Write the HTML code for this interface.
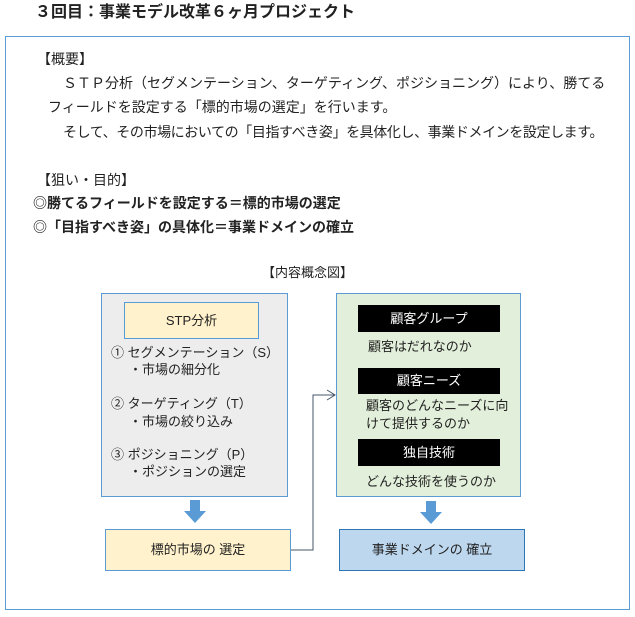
<!DOCTYPE html>
<html><head><meta charset="utf-8"><style>
body{margin:0;width:635px;height:617px;background:#fff;position:relative;overflow:hidden;font-family:"Liberation Sans","Noto Sans CJK JP",sans-serif;color:#222}
.a{position:absolute;white-space:nowrap;font-size:13px;line-height:16px}
.p{font-size:14px;line-height:17px}
.b{font-weight:bold}
.box{position:absolute;box-sizing:border-box}
.bar{position:absolute;background:#000;color:#fff;font-size:13px;text-align:center;line-height:27px}
</style></head><body>
<div class="a b" style="left:35px;top:3px;font-size:16px;line-height:19px">３回目：事業モデル改革６ヶ月プロジェクト</div>
<div class="box" style="left:5px;top:36px;width:625px;height:574px;border:1.5px solid #5b9bd5"></div>
<div class="a p" style="left:37px;top:51px">【概要】</div>
<div class="a p" style="left:63px;top:75px">ＳＴＰ分析（セグメンテーション、ターゲティング、ポジショニング）により、勝てる</div>
<div class="a p" style="left:48px;top:99px">フィールドを設定する「標的市場の選定」を行います。</div>
<div class="a p" style="left:63px;top:124px;letter-spacing:-0.4px">そして、その市場においての「目指すべき姿」を具体化し、事業ドメインを設定します。</div>
<div class="a p" style="left:37px;top:172px">【狙い・目的】</div>
<div class="a p b" style="left:33px;top:195px">◎勝てるフィールドを設定する＝標的市場の選定</div>
<div class="a p b" style="left:33px;top:219px">◎「目指すべき姿」の具体化＝事業ドメインの確立</div>
<div class="a" style="left:262px;top:265px">【内容概念図】</div>

<div class="box" style="left:101px;top:293px;width:187px;height:204px;background:#ededed;border:1px solid #5b9bd5"></div>
<div class="box" style="left:124px;top:302px;width:135px;height:37px;background:#fff2cc;border:1px solid #5b9bd5;font-size:13px;text-align:center;line-height:35px">STP分析</div>
<div class="a" style="left:111px;top:345px">① セグメンテーション（S）</div>
<div class="a" style="left:129px;top:362px">・市場の細分化</div>
<div class="a" style="left:111px;top:396px">② ターゲティング（T）</div>
<div class="a" style="left:129px;top:414px">・市場の絞り込み</div>
<div class="a" style="left:111px;top:447px">③ ポジショニング（P）</div>
<div class="a" style="left:129px;top:464px">・ポジションの選定</div>

<div class="box" style="left:336px;top:293px;width:185px;height:204px;background:#e2efda;border:1px solid #5b9bd5"></div>
<div class="bar" style="left:358px;top:305px;width:142px;height:27px">顧客グループ</div>
<div class="a" style="left:368px;top:339px">顧客はだれなのか</div>
<div class="bar" style="left:358px;top:368px;width:142px;height:26px;line-height:26px">顧客ニーズ</div>
<div class="a" style="left:366px;top:398px">顧客のどんなニーズに向</div>
<div class="a" style="left:366px;top:416px">けて提供するのか</div>
<div class="bar" style="left:358px;top:439px;width:142px;height:27px">独自技術</div>
<div class="a" style="left:366px;top:474px">どんな技術を使うのか</div>

<svg class="box" style="left:0;top:0" width="635" height="617">
<path d="M190 500h10v11h6l-11 12l-11-12h6z" fill="#5b9bd5"/>
<path d="M426 501h10v11h6l-11 12l-11-12h6z" fill="#5b9bd5"/>
<path d="M291 550H313V395H335" fill="none" stroke="#44546a" stroke-width="1"/>
<path d="M327 390l8 5l-8 5" fill="none" stroke="#44546a" stroke-width="1"/>
</svg>

<div class="box" style="left:105px;top:529px;width:186px;height:42px;background:#fff2cc;border:1px solid #5b9bd5;font-size:13px;text-align:center;line-height:40px">標的市場の 選定</div>
<div class="box" style="left:339px;top:529px;width:186px;height:42px;background:#bdd7ee;border:1px solid #2e75b6;font-size:13px;text-align:center;line-height:40px">事業ドメインの 確立</div>
</body></html>
